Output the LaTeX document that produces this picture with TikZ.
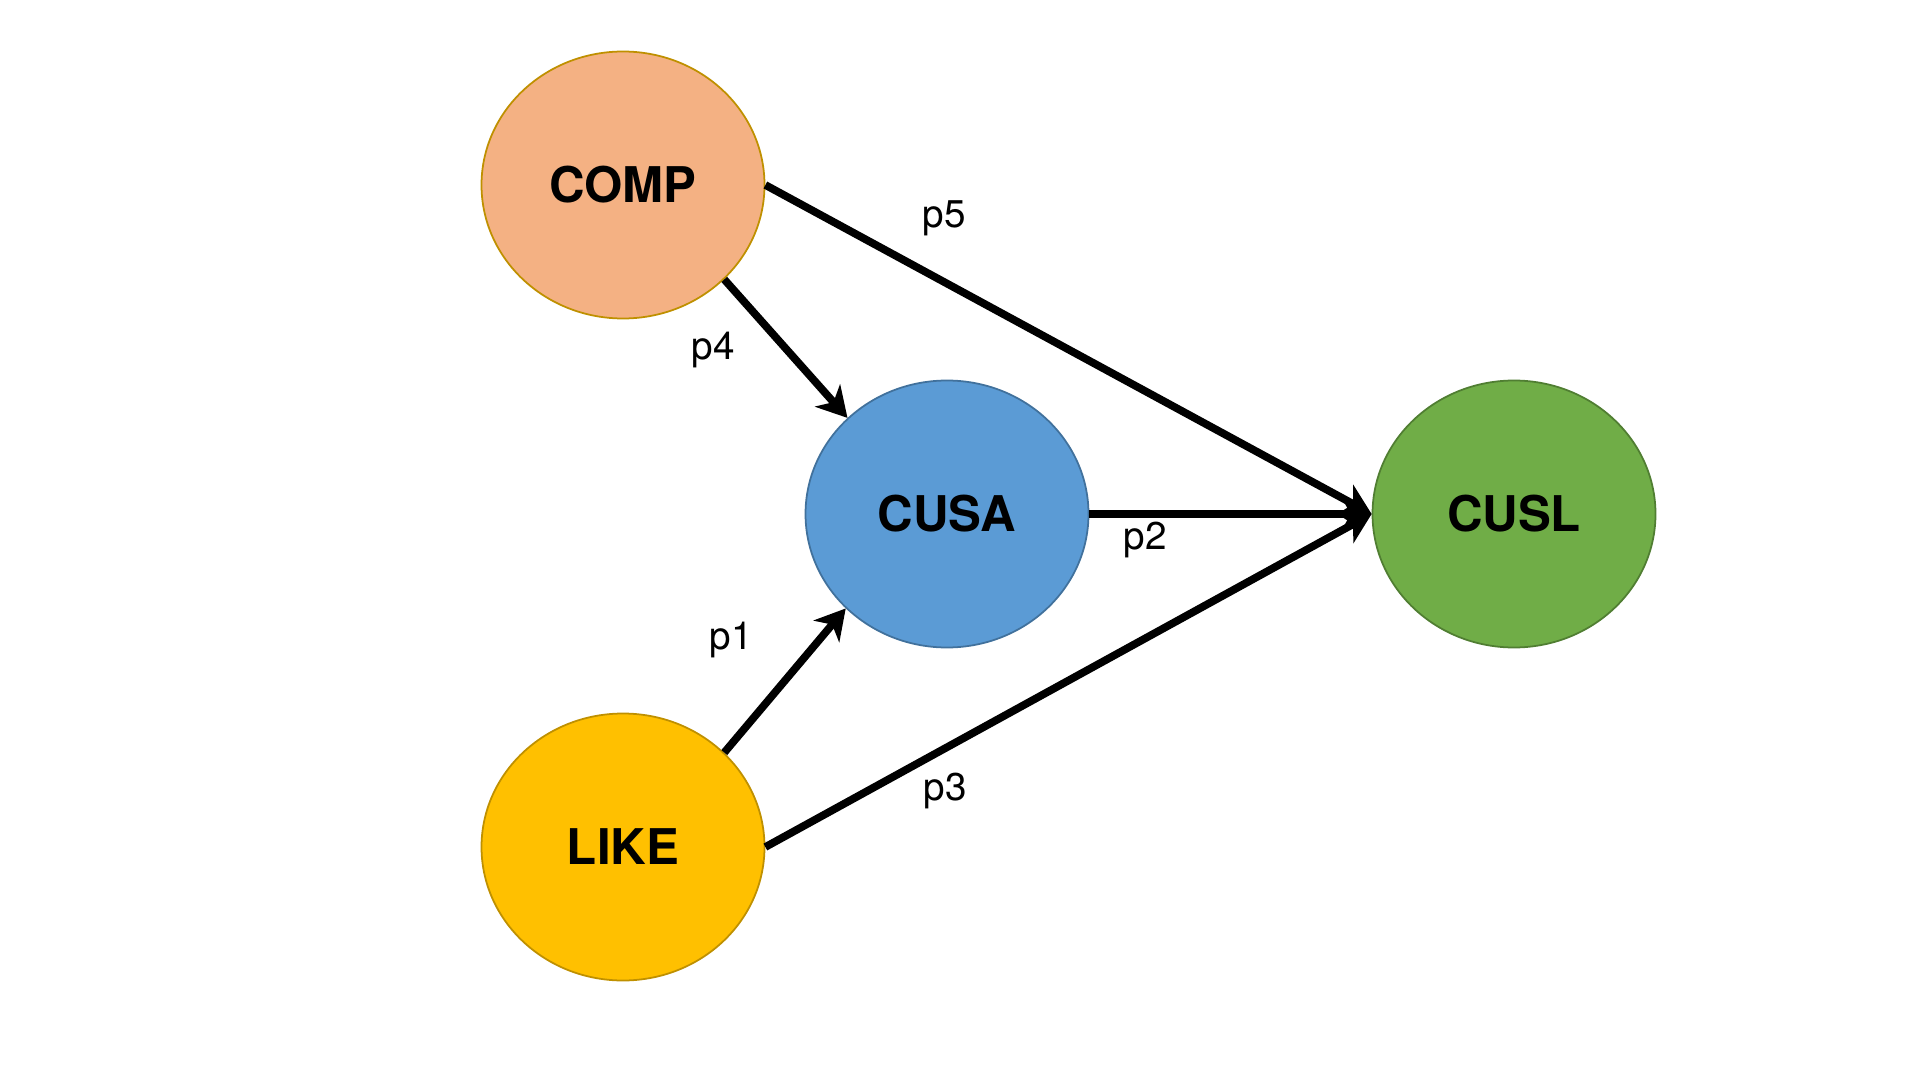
\documentclass[tikz,border=0pt]{standalone}
\usepackage{fontspec}
\setmainfont{TeX Gyre Heros}
\usetikzlibrary{arrows.meta,shapes.geometric}
\definecolor{compfill}{HTML}{F4B183}
\definecolor{likefill}{HTML}{FFC000}
\definecolor{cusafill}{HTML}{5B9BD5}
\definecolor{cuslfill}{HTML}{70AD47}
\definecolor{goldline}{HTML}{BF9000}
\definecolor{blueline}{HTML}{41719C}
\definecolor{greenline}{HTML}{507E32}

\begin{document}
\begin{tikzpicture}[lat/.style={ellipse,draw,line width=0.5pt,minimum width=2.83cm,minimum height=2.67cm,inner sep=0pt,font=\fontsize{14}{16}\selectfont\bfseries},arr/.style={-{Stealth[length=8.5pt,width=9.5pt,inset=2.5pt]},line width=2.2pt,color=black},lbl/.style={font=\fontsize{11}{13}\selectfont}]
\useasboundingbox (0,0) rectangle (19.2,-10.8);
\node[lat,fill=compfill,draw=goldline] (comp) at (6.23,-1.85) {COMP};
\node[lat,fill=cusafill,draw=blueline] (cusa) at (9.47,-5.14) {CUSA};
\node[lat,fill=likefill,draw=goldline] (like) at (6.23,-8.47) {LIKE};
\node[lat,fill=cuslfill,draw=greenline] (cusl) at (15.14,-5.14) {CUSL};
\draw[arr] (comp.east)--(cusl.west);
\draw[arr] (cusa.east)--(cusl.west);
\draw[arr] (like.east)--(cusl.west);
\draw[arr] (comp.-43)--(cusa.136);
\draw[arr] (like.43)--(cusa.223);
\node[lbl] (p5) at (9.44,-2.18) {p5};
\node[lbl] (p4) at (7.13,-3.50) {p4};
\node[lbl] (p2) at (11.45,-5.40) {p2};
\node[lbl] (p1) at (7.31,-6.40) {p1};
\node[lbl] (p3) at (9.45,-7.91) {p3};
\end{tikzpicture}
\end{document}
